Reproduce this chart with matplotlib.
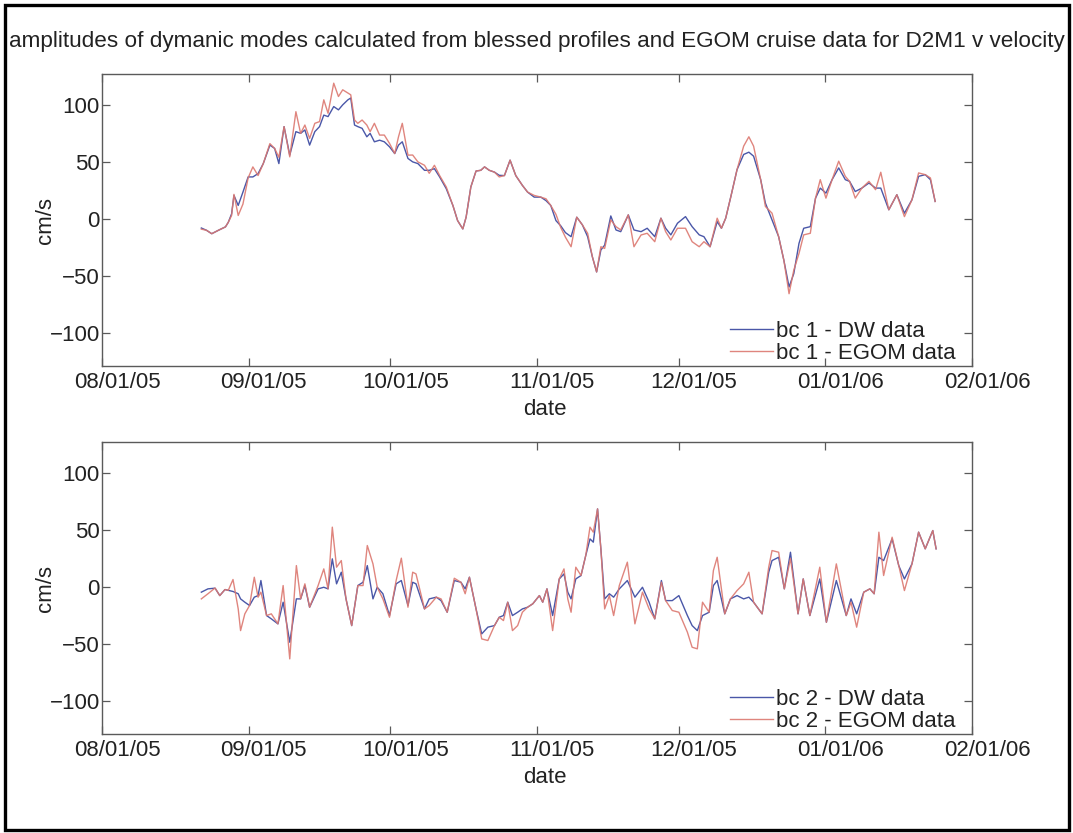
import matplotlib
matplotlib.use("Agg")
import matplotlib.pyplot as plt
import matplotlib.transforms as mtransforms
from matplotlib.patches import Rectangle
from datetime import datetime, timedelta

plt.rcParams['font.family'] = ['Liberation Sans', 'DejaVu Sans']

start = datetime(2005, 8, 1)

# bc 1 (top panel), days after 08/01/05
bc1_days = [21.0, 22.1, 23.2, 24.6, 26.1, 26.7, 27.4, 27.9, 28.8, 29.8, 30.9, 31.9, 33.0, 34.1,
            35.5, 36.5, 37.4, 38.5, 39.7, 41.0, 42.0, 42.9, 43.9, 45.0, 46.0, 46.9, 47.8, 49.0,
            50.0, 50.9, 52.0, 52.6, 53.4, 54.1, 55.0, 56.0, 56.7, 57.6, 58.7, 59.7, 60.8, 61.9,
            62.7, 63.5, 64.7, 65.7, 66.8, 68.2, 69.2, 70.3, 71.4, 72.8, 74.2, 75.2, 76.3, 77.0,
            78.0, 79.1, 80.1, 80.9, 81.9, 83.0, 84.0, 85.1, 86.3, 87.5, 88.9, 90.0, 91.4, 92.8,
            93.9, 94.9, 96.0, 97.0, 98.0, 99.2, 100.4, 101.6, 102.7, 103.7, 104.6, 105.5, 106.3,
            107.6, 108.7, 109.7, 111.3, 112.5, 114.0, 115.3, 116.9, 118.2, 119.2, 120.3, 121.7,
            123.4, 124.8, 126.3, 127.3, 128.6, 130.1, 131.0, 131.9, 133.0, 134.3, 135.7, 136.8,
            137.8, 139.3, 140.3, 141.7, 143.1, 144.2, 145.3, 146.3, 147.4, 148.4, 149.8, 150.9,
            151.9, 153.1, 154.4, 155.8, 157.2, 158.1, 159.3, 160.7, 162.2, 163.6, 164.7, 166.4,
            168.1, 169.7, 171.3, 172.7, 174.1, 175.2, 176.2]
bc1_dw = [-8, -10, -13, -10, -7, -3, 4.4, 20.6, 11.8, 23.5, 36.8, 36.8, 39.7, 48.5,
          64.7, 61.8, 48.5, 80.9, 55.9, 76.5, 75, 78, 64.7, 76.5, 80.9, 91, 89.7, 98.5,
          95.6, 100, 104.4, 106, 82.3, 80.9, 79.4, 72, 75, 67.6, 69, 67.6, 63.2, 57.3,
          64.7, 67.6, 53, 50, 48.5, 42.6, 42.6, 44, 36.8, 26.5, 11.8, -1.5, -8.8, 1.5,
          28, 42, 42.6, 45.6, 42.6, 41, 38.2, 38, 51.5, 38, 29.4, 23.5, 19.1, 19.1,
          16, 11.8, -1.5, -6, -12, -15.6, 1.5, -5.3, -15.6, -33.2, -46.5, -27.3, -23,
          2.6, -9.7, -11.2, 3.5, -9.7, -11.2, -8.2, -15.6, 0.6, -8.2, -14, -3.8,
          2, -6.8, -14, -15.6, -24.4, -2.4, -8.2, 0.6, 19.7, 43.2, 56.5, 58.5,
          55, 34.4, 13.8, -0.9, -15.6, -36.2, -59.7, -48, -21.5, -8.2, -6.8, 18.2,
          27, 22.6, 34.4, 44.7, 34.4, 32.9, 24, 27, 31.5, 27, 27, 8,
          21.2, 5, 16.8, 37.3, 38.8, 34.4, 15.3]
bc1_egom = [-9, -10, -13, -10, -7, -3, 3, 21.5, 3, 13, 36, 45.6, 38, 48.5,
            66, 61.8, 54, 80.9, 54.4, 94, 75, 82.3, 70.6, 83.8, 85.3, 104.4, 92.6, 119,
            107.3, 113.2, 110.3, 108.8, 86.7, 83.8, 86.7, 82.3, 76.5, 83.8, 73.5, 73.5, 66.2, 57.3,
            72, 83.8, 55.9, 56, 50, 47, 40, 47, 38, 28, 11.8, -1.5, -8.8, 1.5,
            28, 42, 42.6, 45.6, 42.6, 41, 36.8, 38, 51.5, 38, 29.4, 23.5, 20.6, 19.1,
            17.6, 11.8, 4, -7.4, -16, -24.4, 1.5, -5.3, -12.6, -33.2, -46.5, -24.4, -25.9,
            -0.9, -6.8, -9.7, 3.5, -24.4, -14.1, -12.6, -20, 0.6, -11.2, -18.5, -8.2,
            -8.2, -20, -24.4, -20, -24.4, 0.6, -8.2, 0.6, 19.7, 43.2, 63.8, 72,
            63.8, 34.4, 10.9, 5, -15.6, -36.2, -65.6, -45, -30.3, -14, -12.6, 18.2,
            34.4, 18.2, 34.4, 50.6, 37.3, 32.9, 18.2, 27, 32.9, 25.6, 40.9, 8,
            21.2, 2, 16.8, 40.3, 38.8, 35.9, 15.3]

# bc 2 (bottom panel), days after 08/01/05
bc2_days = [21.0, 22.4, 23.9, 24.9, 26.0, 26.7, 27.7, 28.8, 29.3, 30.2, 31.2, 32.2, 33.0, 33.6,
            34.8, 35.8, 37.2, 38.3, 39.7, 41.1, 42.0, 42.9, 43.9, 45.7, 46.9, 47.8, 48.7, 49.6,
            50.6, 51.6, 52.8, 54.1, 55.2, 56.1, 57.3, 58.2, 59.4, 60.8, 62.2, 63.3, 64.7, 65.7,
            66.4, 68.2, 69.2, 70.7, 71.7, 73.0, 74.5, 75.9, 76.8, 77.7, 79.1, 80.3, 81.6, 83.0,
            84.0, 84.9, 85.8, 86.8, 87.9, 88.9, 90.0, 91.1, 92.5, 93.2, 94.1, 95.3, 96.7, 97.7,
            98.5, 99.2, 100.2, 101.3, 102.3, 103.2, 103.9, 104.8, 105.5, 106.3, 107.3, 108.2,
            109.4, 111.1, 112.7, 114.3, 115.7, 116.9, 118.3, 119.2, 120.6, 122.0, 123.8, 124.8,
            125.9, 127.0, 128.4, 129.3, 130.1, 131.7, 132.9, 134.3, 135.7, 136.8, 137.8, 139.6,
            141.0, 141.7, 143.1, 144.3, 145.6, 147.2, 148.3, 149.7, 151.8, 153.2, 155.3, 157.4,
            158.4, 159.6, 161.1, 162.4, 163.3, 164.3, 165.3, 167.1, 168.5, 169.7, 171.3, 172.7,
            174.1, 175.7, 176.4]
bc2_dw = [-4.6, -1.7, -1.1, -7.6, -2.3, -3, -4, -6, -10.5, -13.4, -16.3, -9, -7.6, 5.6,
          -25.1, -28, -32.4, -13.4, -48.5, -10.5, -10.5, 1.2, -17.8, -1.7, -0.3, -1.7, 24.6, 2.7,
          12.9, -10.5, -33.9, 1.2, 4.1, 18.7, -10.5, -0.3, -6, -25.1, 2.7, 5.6, -16.3, 4.1,
          2.7, -19.3, -10.5, -9, -12, -22.2, 5.6, 4.1, -1.7, 8.5, -19.3, -41.2, -35.3, -33.9,
          -26.6, -25.1, -13.4, -25.1, -22.2, -19.3, -17.8, -14.8, -7.6, -13.4, -1.7, -25.1, 7, 11.4,
          -4.6, -10.5, 7, 10, 27.5, 42.1, 39.2, 68.4, 33.4, -10.5, -6, -9,
          -1.7, 5.6, -9, -0.3, -13.4, -28, 5.6, -12, -12, -7.6, -25.1, -33.9,
          -38.3, -25.1, -22.2, 1.2, 5.6, -23.6, -10.5, -7.6, -10.5, -9, -13.4, -23.6,
          12.9, 23.1, 26, -1.7, 30.4, -23.6, 7, -25.1, 7, -31, 5.6, -25.1,
          -10.5, -23.6, -4.6, -1.7, -6, 26, 23.1, 42.1, 18.7, 7, 20.2, 48,
          33.4, 49.4, 33.4]
bc2_egom = [-10.5, -6, -1, -7.6, -2.3, -3, 6.5, -19.3, -38.3, -23.6, -16.3, 8.5, -9, -4.6,
            -25.1, -23.6, -32.4, 1.2, -63.1, 18.7, -10.5, 2.7, -17.8, 1.2, 15.8, -1.7, 52.4, 17.3,
            23.1, -10.5, -33.9, 1.2, 1.2, 36.3, 20.2, -0.3, -10.5, -26.6, 5.6, 25.2, -17.8, 12.9,
            11.4, -19.3, -16.3, -9, -10.5, -22.2, 7.6, 4.1, -6, 8.5, -19.3, -45.6, -47, -33.9,
            -26.6, -29.5, -13.4, -38.3, -33.9, -22.2, -17.8, -14.8, -7.6, -13.4, -1.7, -38.3, 7, 15.8,
            -10.5, -22.2, 17.3, 10, 27.5, 52.4, 48, 68.4, 33.4, -19.3, -7.6, -25.1,
            1.2, 21.7, -32.4, -4.6, -19.3, -28, 4.1, -12, -20.7, -22.2, -39.7, -52.9,
            -54.3, -13.4, -22.2, 14.4, 26, -23.6, -10.5, -3.2, 2.7, 12.9, -13.4, -23.6,
            17.3, 31.9, 30.4, -1.7, 25, -23.6, 7, -25.1, 17.3, -31, 20.2, -25.1,
            -13.4, -35.3, -4.6, -1.7, -6, 48, 10, 43.6, 18.7, -3.2, 20.2, 48,
            33.4, 49.4, 33.4]

tick_dates = [datetime(2005, 8, 1), datetime(2005, 9, 1), datetime(2005, 10, 1),
              datetime(2005, 11, 1), datetime(2005, 12, 1), datetime(2006, 1, 1),
              datetime(2006, 2, 1)]
tick_labels = [d.strftime('%m/%d/%y') for d in tick_dates]
y_ticks = [-100, -50, 0, 50, 100]

title = 'amplitudes of dymanic modes calculated from blessed profiles and EGOM cruise data for D2M1 v velocity'

panels = [
    (bc1_days, bc1_dw, bc1_egom, 'bc 1 - DW data', 'bc 1 - EGOM data', [0.0951, 0.5606, 0.8108, 0.3505]),
    (bc2_days, bc2_dw, bc2_egom, 'bc 2 - DW data', 'bc 2 - EGOM data', [0.0951, 0.1188, 0.8108, 0.3505]),
]

blue = '#4a57a8'
red = '#dc7870'
ink = '#222222'
spine_col = '#5a5a5a'

fig = plt.figure(figsize=(10.73, 8.33), dpi=100)
shift = mtransforms.ScaledTranslation(15 / 100, 0, fig.dpi_scale_trans)

for days, dw, egom, lab_dw, lab_egom, rect in panels:
    ax = fig.add_axes(rect)
    dates = [start + timedelta(days=d) for d in days]
    ax.plot(dates, dw, color=blue, lw=1.0, label=lab_dw)
    ax.plot(dates, egom, color=red, lw=1.0, alpha=0.9, label=lab_egom)

    ax.set_xlim(tick_dates[0], tick_dates[-1])
    ax.set_ylim(-129, 127)
    ax.set_xticks(tick_dates)
    ax.set_xticklabels(tick_labels)
    ax.set_yticks(y_ticks)
    ax.set_yticklabels([str(v).replace('-', '\u2212') for v in y_ticks])
    ax.tick_params(direction='in', top=True, right=True, length=6, width=0.9,
                   color=spine_col, labelsize=16, labelcolor=ink)
    ax.tick_params(axis='x', pad=4.5)
    ax.tick_params(axis='y', pad=1.5)
    # tick labels sit a little right of their ticks in the original export
    for lbl in ax.get_xticklabels():
        lbl.set_transform(lbl.get_transform() + shift)
    for sp in ax.spines.values():
        sp.set_color(spine_col)
        sp.set_linewidth(1.0)

    leg = ax.legend(loc='lower right', bbox_to_anchor=(0.984, 0.0), frameon=False,
                    fontsize=16, handlelength=1.95, handletextpad=0.15,
                    labelspacing=0.05, borderpad=0.1, borderaxespad=0.0)
    for t in leg.get_texts():
        t.set_color(ink)

    mid_y = rect[1] + rect[3] / 2
    fig.text(45 / 1073, mid_y, 'cm/s', rotation=90, ha='center', va='center',
             fontsize=16, color=ink)
    fig.text(545 / 1073, rect[1] - 43 / 833, 'date', ha='center', va='center',
             fontsize=16, color=ink)

fig.text(537 / 1073, 1 - 42 / 833, title, ha='center', va='center', fontsize=16.2, color=ink)

fig.patches.append(Rectangle((5 / 1073, 3 / 833), 1064 / 1073, 825 / 833,
                             transform=fig.transFigure, fill=False, edgecolor='black',
                             linewidth=2.4))

fig.savefig('out.png', dpi=100)
